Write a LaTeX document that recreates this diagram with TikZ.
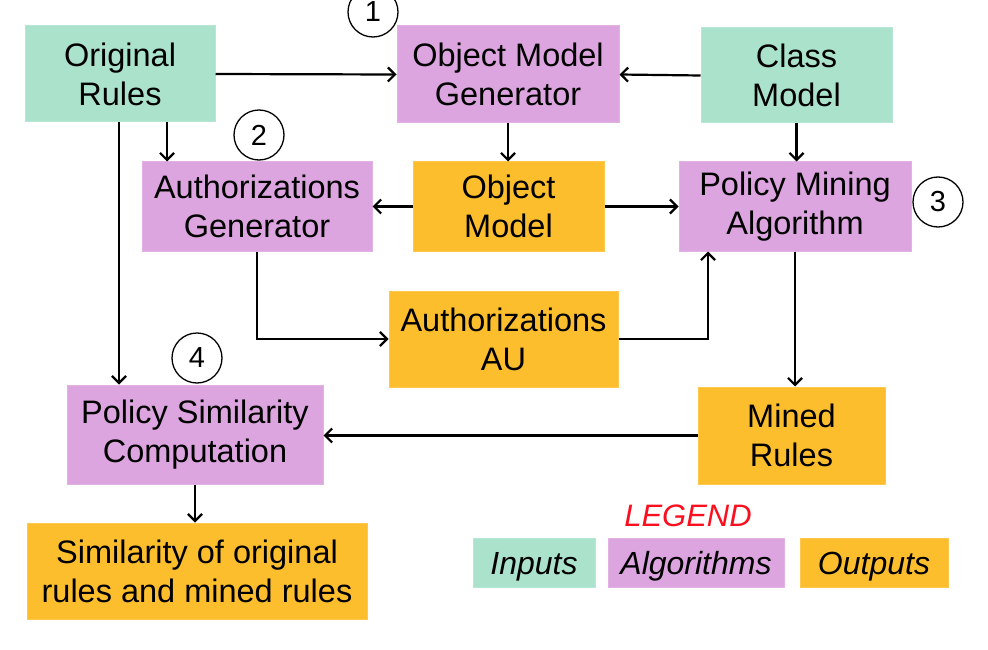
\documentclass[tikz,border=0pt]{standalone}
\usepackage{fontspec}
\setmainfont{Liberation Sans}
\usetikzlibrary{arrows.meta}
\definecolor{inbox}{RGB}{171,226,204}
\definecolor{algbox}{RGB}{221,165,224}
\definecolor{outbox}{RGB}{253,190,46}
\definecolor{legred}{RGB}{250,15,30}
\begin{document}
\begin{tikzpicture}[x=1pt,y=-1pt,
  box/.style={inner sep=0pt, align=center, font=\fontsize{32.5}{39}\selectfont, line width=1pt},
  inp/.style={box, fill=inbox, draw=inbox!85!white},
  alg/.style={box, fill=algbox, draw=algbox!85!white},
  outp/.style={box, fill=outbox, draw=outbox!85!white},
  num/.style={circle, draw, line width=1.3pt, minimum size=50pt, inner sep=0pt, font=\fontsize{29}{32}\selectfont},
  arr/.style={line width=2.2pt, -{Straight Barb[length=7pt,width=14pt,line width=2.2pt]}},
  legtext/.style={font=\fontsize{32}{38}\selectfont\itshape, text height=23pt, text depth=0pt}]
\useasboundingbox (0,0) rectangle (988,650);
\node[inp, minimum width=190pt, minimum height=96pt] (orig) at (120,74) {Original\\Rules};
\node[alg, minimum width=222pt, minimum height=97pt] (omg) at (508,74.5) {Object Model\\Generator};
\node[inp, minimum width=191pt, minimum height=95pt] (cls) at (796.5,75.5) {Class\\Model};
\node[alg, minimum width=230pt, minimum height=89pt] (ag) at (257,206.5) {Authorizations\\Generator};
\node[outp, minimum width=191pt, minimum height=89pt] (om) at (508.5,206.5) {Object\\Model};
\node[alg, minimum width=232pt, minimum height=89pt] (pma) at (795,206.5) {Policy Mining\\Algorithm};
\node[outp, minimum width=229pt, minimum height=96pt] (au) at (503.5,339) {Authorizations\\AU};
\node[alg, minimum width=256pt, minimum height=99pt] (psc) at (195,434.5) {Policy Similarity\\Computation};
\node[outp, minimum width=340pt, minimum height=96pt] (sim) at (197,571) {Similarity of original\\rules and mined rules};
\node[outp, minimum width=187pt, minimum height=97pt] (mr) at (791.5,435.5) {Mined\\Rules};

\node[num] (n1) at (373,12) {1};
\node[num] (n2) at (259,135) {2};
\node[num] (n3) at (938,202) {3};
\node[num] (n4) at (197,358) {4};

\node[font=\fontsize{31}{36}\selectfont\itshape, text=legred] (leg) at (688,516) {LEGEND};
\node[inp, legtext, minimum width=122pt, minimum height=49pt] (li) at (534,562.5) {Inputs};
\node[alg, legtext, minimum width=176pt, minimum height=49pt] (la) at (696,562.5) {Algorithms};
\node[outp, legtext, minimum width=148pt, minimum height=49pt] (lo) at (874,562.5) {Outputs};

\draw[arr] (orig.east) -- (omg.west);
\draw[arr] (cls.west) -- (omg.east);
\draw[arr] ([xshift=47pt]orig.south) -- ([xshift=-90pt]ag.north);
\draw[arr] ([xshift=-1pt]orig.south) -- ([xshift=-76pt]psc.north);
\draw[arr] (omg.south) -- (omg.south |- om.north);
\draw[arr] (cls.south) -- (cls.south |- pma.north);
\draw[arr] (om.west) -- (ag.east);
\draw[arr] (om.east) -- (pma.west);
\draw[arr] (ag.south) |- (au.west);
\draw[arr] (au.east) -| ([xshift=-87pt]pma.south);
\draw[arr] (pma.south) -- (pma.south |- mr.north);
\draw[arr] (mr.west) -- (mr.west -| psc.east);
\draw[arr] (psc.south) -- (psc.south |- sim.north);
\end{tikzpicture}
\end{document}
